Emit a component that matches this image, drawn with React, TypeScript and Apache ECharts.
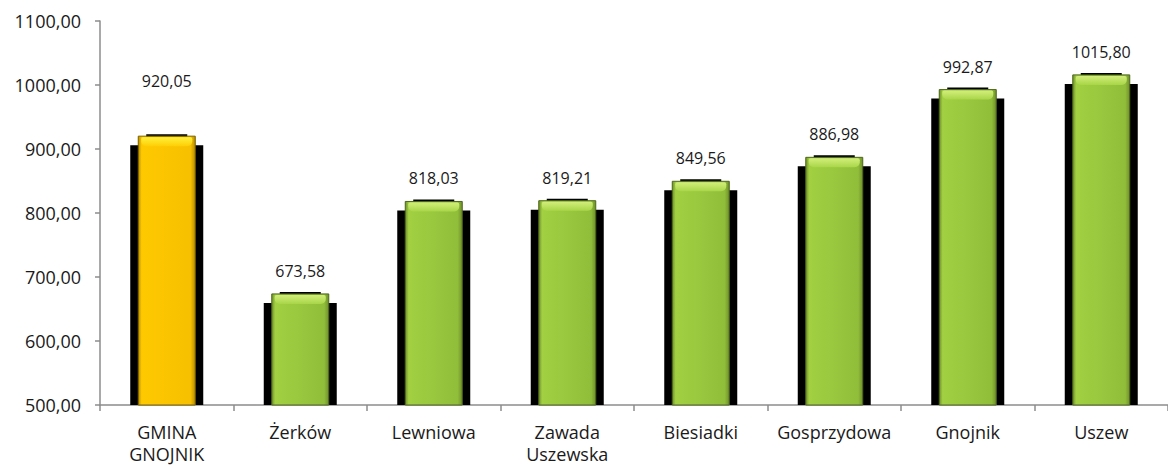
import React, { useEffect, useRef } from "react";
import * as echarts from "echarts";

const categories = ["GMINA\nGNOJNIK", "Żerków", "Lewniowa", "Zawada\nUszewska", "Biesiadki", "Gosprzydowa", "Gnojnik", "Uszew"];
const values = [920.05, 673.58, 818.03, 819.21, 849.56, 886.98, 992.87, 1015.8];
const highlighted = [true, false, false, false, false, false, false, false];
const yTicks = { min: 500, max: 1100, interval: 100 };

const fmt = (v: number) => v.toFixed(2).replace(".", ",");

const YELLOW = { body: "#FFC900", bodyDark: "#F7C000", edge: "#B88E00", stroke: "#7A6200", hiTop: "#FFF03A", hiBot: "#FFCE06" };
const GREEN = { body: "#A2D042", bodyDark: "#90BE3A", edge: "#6F902A", stroke: "#4E661C", hiTop: "#D2EE7A", hiBot: "#A8D648" };

export default function App() {
  const ref = useRef<HTMLDivElement>(null);
  useEffect(() => {
    const chart = echarts.init(ref.current!, null, { renderer: "svg" });
    const font = "'Open Sans', 'Noto Sans', sans-serif";
    chart.setOption({
      animation: false,
      backgroundColor: "#ffffff",
      grid: { left: 100, top: 21, width: 1076, bottom: 60 },
      xAxis: {
        type: "category",
        data: categories,
        axisLine: { lineStyle: { color: "#8c8c8c", width: 1.5 } },
        axisTick: { show: true, length: 6, lineStyle: { color: "#8c8c8c", width: 1.5 } },
        axisLabel: { color: "#1a1a1a", fontSize: 18, fontFamily: font, lineHeight: 22, margin: 16, interval: 0 },
      },
      yAxis: {
        type: "value",
        min: yTicks.min,
        max: yTicks.max,
        interval: yTicks.interval,
        axisLine: { show: true, lineStyle: { color: "#8c8c8c", width: 1.5 } },
        axisTick: { show: true, length: 5, lineStyle: { color: "#8c8c8c", width: 1.5 } },
        splitLine: { show: false },
        axisLabel: { color: "#1a1a1a", fontSize: 18, fontFamily: font, margin: 19, formatter: (v: number) => fmt(v) },
      },
      series: [
        {
          type: "custom",
          data: values.map((v, i) => [i, v]),
          clip: false,
          renderItem: (params: any, api: any) => {
            const i = api.value(0);
            const v = api.value(1);
            const top = api.coord([i, v]);
            const base = api.coord([i, yTicks.min]);
            const cx = top[0];
            const ty = top[1];
            const by = base[1];
            const c = highlighted[params.dataIndex] ? YELLOW : GREEN;
            const bw = 57;
            const hw = bw / 2;
            const labelOffset = params.dataIndex === 0 ? 55 : 23;
            return {
              type: "group",
              children: [
                {
                  type: "rect",
                  shape: { x: cx - hw - 8, y: ty + 9, width: bw + 16, height: by - ty - 9 },
                  style: { fill: "#000000" },
                },
                {
                  type: "rect",
                  shape: { x: cx - hw + 8, y: ty - 2, width: bw - 16, height: 4 },
                  style: { fill: "#000000" },
                },
                {
                  type: "rect",
                  shape: { x: cx - hw, y: ty, width: bw, height: by - ty },
                  style: {
                    fill: new echarts.graphic.LinearGradient(0, 0, 1, 0, [
                      { offset: 0, color: c.edge },
                      { offset: 0.06, color: c.body },
                      { offset: 0.92, color: c.bodyDark },
                      { offset: 1, color: c.edge },
                    ]),
                    stroke: c.stroke,
                    lineWidth: 1,
                  },
                },
                {
                  type: "rect",
                  shape: { x: cx - hw + 3, y: ty + 1, width: bw - 6, height: 9, r: [2, 2, 5, 5] },
                  style: {
                    fill: new echarts.graphic.LinearGradient(0, 0, 0, 1, [
                      { offset: 0, color: c.hiTop },
                      { offset: 1, color: c.hiBot },
                    ]),
                  },
                },
                {
                  type: "text",
                  x: cx,
                  y: ty - labelOffset,
                  style: {
                    text: fmt(v),
                    fill: "#1a1a1a",
                    font: `16px ${font}`,
                    align: "center",
                    verticalAlign: "middle",
                  },
                },
              ],
            };
          },
        },
      ],
    });
    return () => chart.dispose();
  }, []);
  return <div ref={ref} style={{ width: 1168, height: 465, position: "absolute", left: 0, top: 0 }} />;
}
